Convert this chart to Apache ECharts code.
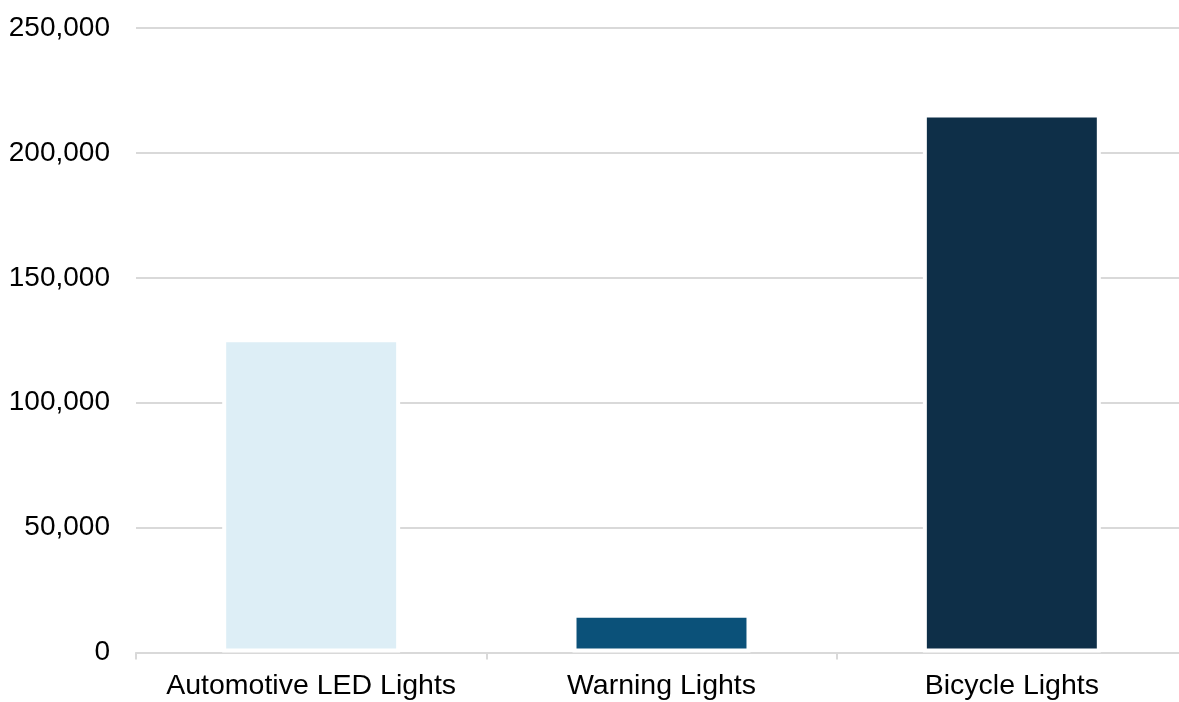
<!DOCTYPE html>
<html>
<head>
<meta charset="utf-8">
<script src="https://cdn.jsdelivr.net/npm/echarts@6/dist/echarts.min.js"></script>
<style>
  html, body { margin: 0; padding: 0; background: #ffffff; overflow: hidden; }
  /* plot area runs slightly past the right edge of the page */
  #chart { width: 1187px; height: 702px; }
</style>
</head>
<body>
<div id="chart"></div>
<script>
// Product categories and their unit totals
const categories = ['Automotive LED Lights', 'Warning Lights', 'Bicycle Lights'];
const units = [125800, 15500, 215800];
const barColors = ['#ddeef6', '#0b5179', '#0e2f48'];

const chart = echarts.init(document.getElementById('chart'));

chart.setOption({
  animation: false,
  grid: { left: 136, top: 28, right: 0, bottom: 49.5, containLabel: false },
  xAxis: {
    type: 'category',
    data: categories,
    axisLine: { lineStyle: { color: '#d9d9d9', width: 2 } },
    axisTick: { show: true, length: 7, lineStyle: { color: '#d9d9d9', width: 2 } },
    axisLabel: {
      interval: 0,
      color: '#000000',
      fontFamily: 'Liberation Sans, Arial, sans-serif',
      fontSize: 28.5,
      margin: 19
    },
    splitLine: { show: false }
  },
  yAxis: {
    type: 'value',
    min: 0,
    max: 250000,
    interval: 50000,
    axisLine: { show: false },
    axisTick: { show: false },
    axisLabel: {
      color: '#000000',
      fontFamily: 'Liberation Sans, Arial, sans-serif',
      fontSize: 28,
      margin: 26,
      formatter: v => v.toLocaleString('en-US')
    },
    splitLine: { lineStyle: { color: '#d9d9d9', width: 2 } }
  },
  series: [{
    type: 'bar',
    data: units.map((v, i) => ({ value: v, itemStyle: { color: barColors[i] } })),
    barWidth: '50.8%',
    itemStyle: { borderColor: '#ffffff', borderWidth: 4 }
  }]
});
</script>
</body>
</html>
